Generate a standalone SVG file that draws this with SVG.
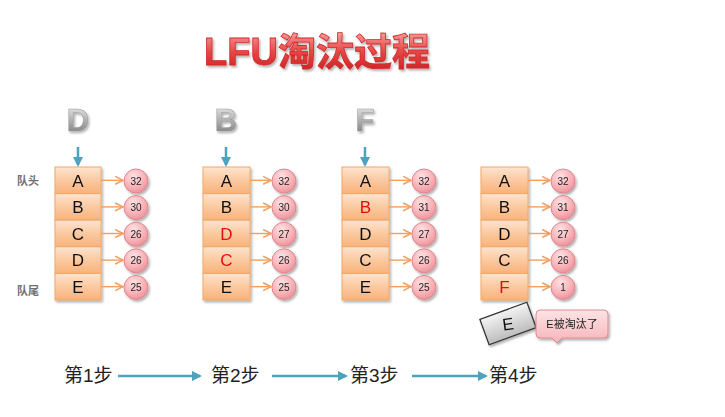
<svg xmlns="http://www.w3.org/2000/svg" width="725" height="417" viewBox="0 0 725 417">
<defs>
<linearGradient id="boxg" x1="0" y1="0" x2="0" y2="1">
<stop offset="0" stop-color="#fde4cf"/>
<stop offset="0.5" stop-color="#fbc9a0"/>
<stop offset="1" stop-color="#f9b27a"/>
</linearGradient>
<radialGradient id="cirg" cx="0.4" cy="0.3" r="0.75">
<stop offset="0" stop-color="#fde2e4"/>
<stop offset="0.6" stop-color="#f7b3b8"/>
<stop offset="1" stop-color="#ec8d95"/>
</radialGradient>
<linearGradient id="letg" x1="0" y1="0" x2="0" y2="1">
<stop offset="0" stop-color="#f0f0f0"/>
<stop offset="0.5" stop-color="#b0b0b0"/>
<stop offset="1" stop-color="#707070"/>
</linearGradient>
<linearGradient id="titg" x1="0" y1="0" x2="0" y2="1">
<stop offset="0" stop-color="#f7a0a0"/>
<stop offset="0.5" stop-color="#e84545"/>
<stop offset="1" stop-color="#c82020"/>
</linearGradient>
<linearGradient id="eg" x1="0" y1="0" x2="0" y2="1">
<stop offset="0" stop-color="#f4f4f4"/>
<stop offset="1" stop-color="#bdbdbd"/>
</linearGradient>
<linearGradient id="callg" x1="0" y1="0" x2="0" y2="1">
<stop offset="0" stop-color="#fde4e6"/>
<stop offset="1" stop-color="#f6b3b9"/>
</linearGradient>
<marker id="oa" viewBox="0 0 10 10" refX="9" refY="5" markerWidth="7" markerHeight="7" orient="auto">
<path d="M1,1 L9,5 L1,9" fill="none" stroke="#f0a060" stroke-width="1.6"/>
</marker>
<marker id="ba" viewBox="0 0 10 10" refX="8" refY="5" markerWidth="4" markerHeight="4" orient="auto">
<path d="M0,0 L10,5 L0,10 Z" fill="#4ba3bd"/>
</marker>
<filter id="sh" x="-10%" y="-10%" width="130%" height="140%">
<feDropShadow dx="1.5" dy="2" stdDeviation="1.2" flood-color="#000" flood-opacity="0.3"/>
</filter>
</defs>
<style>
.box{fill:url(#boxg);stroke:#f0a868;stroke-width:1}
.bt{font-family:"Liberation Sans",Arial,sans-serif;font-size:17px;fill:#111;text-anchor:middle}
.red{fill:#e01010}
.cir{fill:url(#cirg);stroke:#e0868e;stroke-width:1}
.ct{font-family:"Liberation Sans",Arial,sans-serif;font-size:10px;fill:#222;text-anchor:middle}
.oc{stroke:#f0a060;stroke-width:1.4;fill:none}
.bc{stroke:#4ba3bd;stroke-width:2.5;fill:none}
.big{font-family:"Liberation Sans",Arial,sans-serif;font-size:31px;font-weight:bold;fill:url(#letg);stroke:#9a9a9a;stroke-width:0.5;text-anchor:middle}
.side{font-family:"Noto Sans CJK SC",sans-serif;font-size:11px;font-weight:bold;fill:#707070}
.step{font-family:"Liberation Sans","Noto Sans CJK SC",sans-serif;font-size:19px;fill:#222}
</style>
<g id="title" filter="url(#sh)">
<text x="317" y="65" text-anchor="middle" font-family="'Liberation Sans','Noto Sans CJK SC',sans-serif" font-size="38" font-weight="bold" fill="url(#titg)" stroke="#d02a2a" stroke-width="0.8">LFU淘汰过程</text>
</g>
<g id="side-labels">
<text class="side" x="17" y="185">队头</text>
<text class="side" x="17" y="295">队尾</text>
</g>
<g id="column1" filter="url(#sh)">
<text class="big" x="78" y="131">D</text>
<rect class="box" x="55" y="167" width="46" height="26.6"/>
<rect class="box" x="55" y="193.6" width="46" height="26.6"/>
<rect class="box" x="55" y="220.2" width="46" height="26.6"/>
<rect class="box" x="55" y="246.8" width="46" height="26.6"/>
<rect class="box" x="55" y="273.4" width="46" height="26.6"/>
<text class="bt" x="78" y="186.5">A</text>
<text class="bt" x="78" y="213.1">B</text>
<text class="bt" x="78" y="239.7">C</text>
<text class="bt" x="78" y="266.3">D</text>
<text class="bt" x="78" y="292.9">E</text>
<circle class="cir" cx="136" cy="181" r="12"/>
<circle class="cir" cx="136" cy="207.6" r="12"/>
<circle class="cir" cx="136" cy="234.2" r="12"/>
<circle class="cir" cx="136" cy="260.8" r="12"/>
<circle class="cir" cx="136" cy="287.4" r="12"/>
<text class="ct" x="136" y="184.5">32</text>
<text class="ct" x="136" y="211.1">30</text>
<text class="ct" x="136" y="237.7">26</text>
<text class="ct" x="136" y="264.3">26</text>
<text class="ct" x="136" y="290.9">25</text>
</g>
<g id="column2" filter="url(#sh)">
<text class="big" x="226" y="131">B</text>
<rect class="box" x="203" y="167" width="47" height="26.6"/>
<rect class="box" x="203" y="193.6" width="47" height="26.6"/>
<rect class="box" x="203" y="220.2" width="47" height="26.6"/>
<rect class="box" x="203" y="246.8" width="47" height="26.6"/>
<rect class="box" x="203" y="273.4" width="47" height="26.6"/>
<text class="bt" x="226.5" y="186.5">A</text>
<text class="bt" x="226.5" y="213.1">B</text>
<text class="bt red" x="226.5" y="239.7">D</text>
<text class="bt red" x="226.5" y="266.3">C</text>
<text class="bt" x="226.5" y="292.9">E</text>
<circle class="cir" cx="284" cy="181" r="12"/>
<circle class="cir" cx="284" cy="207.6" r="12"/>
<circle class="cir" cx="284" cy="234.2" r="12"/>
<circle class="cir" cx="284" cy="260.8" r="12"/>
<circle class="cir" cx="284" cy="287.4" r="12"/>
<text class="ct" x="284" y="184.5">32</text>
<text class="ct" x="284" y="211.1">30</text>
<text class="ct" x="284" y="237.7">27</text>
<text class="ct" x="284" y="264.3">26</text>
<text class="ct" x="284" y="290.9">25</text>
</g>
<g id="column3" filter="url(#sh)">
<text class="big" x="365" y="131">F</text>
<rect class="box" x="342" y="167" width="47" height="26.6"/>
<rect class="box" x="342" y="193.6" width="47" height="26.6"/>
<rect class="box" x="342" y="220.2" width="47" height="26.6"/>
<rect class="box" x="342" y="246.8" width="47" height="26.6"/>
<rect class="box" x="342" y="273.4" width="47" height="26.6"/>
<text class="bt" x="365.5" y="186.5">A</text>
<text class="bt red" x="365.5" y="213.1">B</text>
<text class="bt" x="365.5" y="239.7">D</text>
<text class="bt" x="365.5" y="266.3">C</text>
<text class="bt" x="365.5" y="292.9">E</text>
<circle class="cir" cx="424" cy="181" r="12"/>
<circle class="cir" cx="424" cy="207.6" r="12"/>
<circle class="cir" cx="424" cy="234.2" r="12"/>
<circle class="cir" cx="424" cy="260.8" r="12"/>
<circle class="cir" cx="424" cy="287.4" r="12"/>
<text class="ct" x="424" y="184.5">32</text>
<text class="ct" x="424" y="211.1">31</text>
<text class="ct" x="424" y="237.7">27</text>
<text class="ct" x="424" y="264.3">26</text>
<text class="ct" x="424" y="290.9">25</text>
</g>
<g id="column4" filter="url(#sh)">
<rect class="box" x="481" y="167" width="47" height="26.6"/>
<rect class="box" x="481" y="193.6" width="47" height="26.6"/>
<rect class="box" x="481" y="220.2" width="47" height="26.6"/>
<rect class="box" x="481" y="246.8" width="47" height="26.6"/>
<rect class="box" x="481" y="273.4" width="47" height="26.6"/>
<text class="bt" x="504.5" y="186.5">A</text>
<text class="bt" x="504.5" y="213.1">B</text>
<text class="bt" x="504.5" y="239.7">D</text>
<text class="bt" x="504.5" y="266.3">C</text>
<text class="bt red" x="504.5" y="292.9">F</text>
<circle class="cir" cx="563" cy="181" r="12"/>
<circle class="cir" cx="563" cy="207.6" r="12"/>
<circle class="cir" cx="563" cy="234.2" r="12"/>
<circle class="cir" cx="563" cy="260.8" r="12"/>
<circle class="cir" cx="563" cy="287.4" r="12"/>
<text class="ct" x="563" y="184.5">32</text>
<text class="ct" x="563" y="211.1">31</text>
<text class="ct" x="563" y="237.7">27</text>
<text class="ct" x="563" y="264.3">26</text>
<text class="ct" x="563" y="290.9">1</text>
</g>
<g id="evicted" filter="url(#sh)">
<rect x="483" y="310" width="50" height="27" fill="url(#eg)" stroke="#333" stroke-width="1.3" transform="rotate(-20 508 323.5)"/>
<text x="508" y="330" class="bt" font-size="17" transform="rotate(-8 508 324)">E</text>
</g>
<g id="callout" filter="url(#sh)">
<path d="M540,310 H604 Q608,310 608,314 V334 Q608,338 604,338 H562 L557,343 L552,338 H540 Q536,338 536,334 V314 Q536,310 540,310 Z" fill="url(#callg)" stroke="#e08890" stroke-width="1"/>
<text x="572" y="328" text-anchor="middle" font-family="'Liberation Sans','Noto Sans CJK SC',sans-serif" font-size="11" fill="#222">E被淘汰了</text>
</g>
<g id="connectors">
<line class="oc" x1="101" y1="180.3" x2="123" y2="180.3" marker-end="url(#oa)"/>
<line class="oc" x1="101" y1="206.9" x2="123" y2="206.9" marker-end="url(#oa)"/>
<line class="oc" x1="101" y1="233.5" x2="123" y2="233.5" marker-end="url(#oa)"/>
<line class="oc" x1="101" y1="260.1" x2="123" y2="260.1" marker-end="url(#oa)"/>
<line class="oc" x1="101" y1="286.7" x2="123" y2="286.7" marker-end="url(#oa)"/>
<line class="oc" x1="250" y1="180.3" x2="271" y2="180.3" marker-end="url(#oa)"/>
<line class="oc" x1="250" y1="206.9" x2="271" y2="206.9" marker-end="url(#oa)"/>
<line class="oc" x1="250" y1="233.5" x2="271" y2="233.5" marker-end="url(#oa)"/>
<line class="oc" x1="250" y1="260.1" x2="271" y2="260.1" marker-end="url(#oa)"/>
<line class="oc" x1="250" y1="286.7" x2="271" y2="286.7" marker-end="url(#oa)"/>
<line class="oc" x1="389" y1="180.3" x2="411" y2="180.3" marker-end="url(#oa)"/>
<line class="oc" x1="389" y1="206.9" x2="411" y2="206.9" marker-end="url(#oa)"/>
<line class="oc" x1="389" y1="233.5" x2="411" y2="233.5" marker-end="url(#oa)"/>
<line class="oc" x1="389" y1="260.1" x2="411" y2="260.1" marker-end="url(#oa)"/>
<line class="oc" x1="389" y1="286.7" x2="411" y2="286.7" marker-end="url(#oa)"/>
<line class="oc" x1="528" y1="180.3" x2="550" y2="180.3" marker-end="url(#oa)"/>
<line class="oc" x1="528" y1="206.9" x2="550" y2="206.9" marker-end="url(#oa)"/>
<line class="oc" x1="528" y1="233.5" x2="550" y2="233.5" marker-end="url(#oa)"/>
<line class="oc" x1="528" y1="260.1" x2="550" y2="260.1" marker-end="url(#oa)"/>
<line class="oc" x1="528" y1="286.7" x2="550" y2="286.7" marker-end="url(#oa)"/>
<line class="bc" x1="78" y1="147" x2="78" y2="165" marker-end="url(#ba)"/>
<line class="bc" x1="226" y1="147" x2="226" y2="165" marker-end="url(#ba)"/>
<line class="bc" x1="365" y1="147" x2="365" y2="165" marker-end="url(#ba)"/>
<line class="bc" x1="118" y1="376" x2="200" y2="376" marker-end="url(#ba)"/>
<line class="bc" x1="272" y1="376" x2="346" y2="376" marker-end="url(#ba)"/>
<line class="bc" x1="412" y1="376" x2="486" y2="376" marker-end="url(#ba)"/>
</g>
<g id="steps">
<text class="step" x="64" y="382">第1步</text>
<text class="step" x="211" y="382">第2步</text>
<text class="step" x="350" y="382">第3步</text>
<text class="step" x="489" y="382">第4步</text>
</g>
</svg>
